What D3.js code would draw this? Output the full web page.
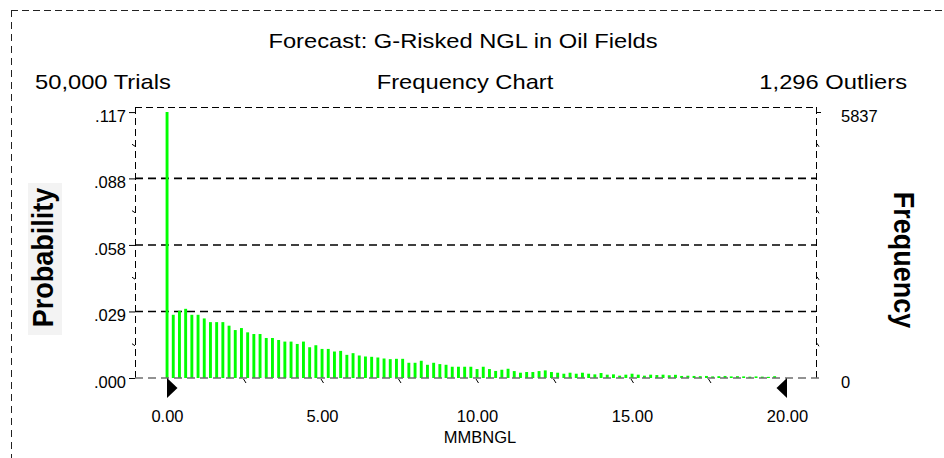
<!DOCTYPE html>
<html>
<head>
<meta charset="utf-8">
<script src="https://cdn.jsdelivr.net/npm/d3@7"></script>
<style>
  html, body { margin: 0; padding: 0; background: #fff; }
  svg { display: block; }
  text { font-family: "Liberation Sans", Arial, sans-serif; fill: #000; }
</style>
</head>
<body>
<svg id="chart" width="944" height="458"></svg>
<script>
// ---- data ----
const title = "Forecast: G-Risked NGL in Oil Fields";
const trialsLabel = "50,000 Trials";
const chartLabel = "Frequency Chart";
const outliersLabel = "1,296 Outliers";
const xAxisLabel = "MMBNGL";
const leftAxisLabel = "Probability";
const rightAxisLabel = "Frequency";
const trials = 50000;
const maxFrequency = 5837;
const binWidth = 0.2;
// frequency per bin (bin i starts at i * binWidth MMBNGL)
const frequencies = [
  5837,
  1387, 1475, 1518, 1387, 1387, 1307, 1226, 1226, 1226, 1148,
  1052, 1096, 1002, 965, 965, 878, 878, 834, 799, 799,
  747, 799, 675, 719, 638, 638,
  581, 595, 508, 545, 494, 472, 465, 450, 428, 414,
  421, 421, 334, 334, 378, 290, 334, 305, 290, 247,
  247, 247, 247, 196, 247, 196,
  155, 181, 203, 152, 116, 131, 131, 152, 167, 131,
  116, 94, 116, 94, 116, 94, 80, 109, 73, 80,
  51, 73, 94, 73, 51, 73, 65, 73,
  60, 70, 45, 50, 45, 40, 45, 35, 40, 45,
  35, 40, 35, 30, 35, 30, 25, 40
];
const probTicks = [0, 0.0292, 0.0584, 0.0876, 0.1167];
const freqTicks = [0, 5837];
const xTicks = [0, 5, 10, 15, 20];
const xMinorTicks = [2.5, 7.5, 12.5, 17.5, 5, 10, 15];

// ---- scales ----
const svg = d3.select("#chart");
const plot = { left: 135, right: 816, top: 107, bottom: 378 };
const x = d3.scaleLinear().domain([0, 20]).range([167, 787]);
const y = d3.scaleLinear().domain([0, maxFrequency / trials]).range([378, 112]);
const yFreq = d3.scaleLinear().domain([0, maxFrequency]).range([378, 112]);

// ---- outer dashed frame ----
svg.append("line").attr("x1", 11.5).attr("x2", 11.5).attr("y1", 10).attr("y2", 458)
  .attr("stroke", "#222").attr("stroke-width", 1).attr("stroke-dasharray", "7,5");
svg.append("line").attr("x1", 11).attr("x2", 944).attr("y1", 10.5).attr("y2", 10.5)
  .attr("stroke", "#222").attr("stroke-width", 1).attr("stroke-dasharray", "7,4");

// ---- header texts (slightly wide glyphs as in the reference) ----
function headerText(tx, ty, anchor, str) {
  svg.append("text")
    .attr("transform", `translate(${tx},${ty}) scale(1.13,1)`)
    .attr("text-anchor", anchor)
    .style("font-size", "21px")
    .text(str);
}
headerText(463, 48, "middle", title);
headerText(35, 89, "start", trialsLabel);
headerText(465, 89, "middle", chartLabel);
headerText(907, 89, "end", outliersLabel);

// ---- side titles ----
svg.append("rect").attr("x", 28).attr("y", 183).attr("width", 34).attr("height", 152)
  .attr("fill", "#f3f3f3");
svg.append("text")
  .attr("transform", "translate(53,257.5) rotate(-90) scale(0.9,1)")
  .attr("text-anchor", "middle")
  .style("font-size", "30px").style("font-weight", "bold")
  .text(leftAxisLabel);
svg.append("text")
  .attr("transform", "translate(894,260) rotate(90) scale(0.9,1)")
  .attr("text-anchor", "middle")
  .style("font-size", "30px").style("font-weight", "bold")
  .text(rightAxisLabel);

// ---- plot frame ----
const frame = svg.append("g").attr("stroke", "#000").attr("stroke-width", 1)
  .attr("stroke-dasharray", "7,4").attr("fill", "none");
frame.append("line").attr("x1", plot.left + 0.5).attr("x2", plot.left + 0.5)
  .attr("y1", plot.top).attr("y2", plot.bottom);
frame.append("line").attr("x1", plot.left).attr("x2", plot.right)
  .attr("y1", plot.top + 0.5).attr("y2", plot.top + 0.5);
frame.append("line").attr("x1", plot.right + 0.5).attr("x2", plot.right + 0.5)
  .attr("y1", plot.top).attr("y2", plot.bottom);

// ---- horizontal gridlines ----
svg.append("g").selectAll("line").data(probTicks.filter(v => v > 0 && v < 0.11))
  .join("line")
  .attr("x1", plot.left).attr("x2", plot.right)
  .attr("y1", d => y(d)).attr("y2", d => y(d))
  .attr("stroke", "#000").attr("stroke-width", 1.6).attr("stroke-dasharray", "8,5");

// ---- bars ----
svg.append("g").selectAll("rect").data(frequencies)
  .join("rect")
  .attr("x", (d, i) => x(i * binWidth) - 1.4)
  .attr("width", 2.9)
  .attr("y", d => y(d / trials))
  .attr("height", d => y(0) - y(d / trials))
  .attr("fill", "#00ff00");

// ---- baseline ----
svg.append("line").attr("x1", plot.left).attr("x2", plot.right + 6)
  .attr("y1", y(0)).attr("y2", y(0))
  .attr("stroke", "#6f6f6f").attr("stroke-width", 1.6).attr("stroke-dasharray", "8,5");

// ---- left axis (probability) ----
const fmtProb = v => d3.format(".3f")(v).replace(/^0\./, ".");
const leftAxis = svg.append("g").attr("transform", `translate(${plot.left},0)`)
  .call(d3.axisLeft(y).tickValues(probTicks).tickFormat(fmtProb).tickSize(6).tickPadding(3));
leftAxis.select(".domain").remove();
leftAxis.selectAll(".tick line").attr("stroke", "#000");
leftAxis.selectAll(".tick text")
  .attr("dy", "0.55em")
  .style("font-size", "16.5px")
  .style("font-family", "'Liberation Sans', Arial, sans-serif");
// minor ticks
svg.append("g").selectAll("line").data(d3.pairs(probTicks).map(p => (p[0] + p[1]) / 2))
  .join("line")
  .attr("x1", plot.left - 3).attr("x2", plot.left)
  .attr("y1", d => y(d) - 1).attr("y2", d => y(d) + 1)
  .attr("stroke", "#000");

// ---- right axis (frequency) ----
const rightAxis = svg.append("g").attr("transform", `translate(${plot.right},0)`)
  .call(d3.axisRight(yFreq).tickValues(freqTicks).tickFormat(d3.format("d")).tickSize(5).tickPadding(20));
rightAxis.select(".domain").remove();
rightAxis.selectAll(".tick line").attr("stroke", "#000")
  .attr("stroke-opacity", (d) => d === 0 ? 0 : 1);
rightAxis.selectAll(".tick text")
  .attr("dy", "0.55em")
  .style("font-size", "16.5px")
  .style("font-family", "'Liberation Sans', Arial, sans-serif");
svg.append("g").selectAll("line").data(d3.range(1, 8).map(k => maxFrequency * k / 8))
  .join("line")
  .attr("x1", plot.right + 1).attr("x2", plot.right + 3)
  .attr("y1", d => yFreq(d) - 1.5).attr("y2", d => yFreq(d) + 1.5)
  .attr("stroke", "#000").attr("stroke-opacity", (d, i) => i % 2 === 0 ? 1 : 0);

// ---- bottom axis ----
const bottomAxis = svg.append("g").attr("transform", `translate(0,${plot.bottom})`)
  .call(d3.axisBottom(x).tickValues(xTicks).tickFormat(d3.format(".2f")).tickSize(0).tickPadding(44));
bottomAxis.select(".domain").remove();
bottomAxis.selectAll(".tick text")
  .attr("dy", "0")
  .style("font-size", "16.5px")
  .style("font-family", "'Liberation Sans', Arial, sans-serif");
// minor slashes below axis
svg.append("g").selectAll("line").data(xMinorTicks)
  .join("line")
  .attr("x1", d => x(d) - 1).attr("x2", d => x(d) + 1.5)
  .attr("y1", plot.bottom + 1).attr("y2", plot.bottom + 5)
  .attr("stroke", "#000");

// range markers (triangles)
svg.append("path")
  .attr("d", `M${x(0)},${plot.bottom}L${x(0) + 10.5},${plot.bottom + 10}L${x(0)},${plot.bottom + 20}Z`)
  .attr("fill", "#000");
svg.append("path")
  .attr("d", `M${x(20)},${plot.bottom}L${x(20) - 10.5},${plot.bottom + 10}L${x(20)},${plot.bottom + 20}Z`)
  .attr("fill", "#000");

// x-axis title
svg.append("text").attr("x", 480).attr("y", 443).attr("text-anchor", "middle")
  .style("font-size", "16.5px").text(xAxisLabel);
</script>
</body>
</html>
